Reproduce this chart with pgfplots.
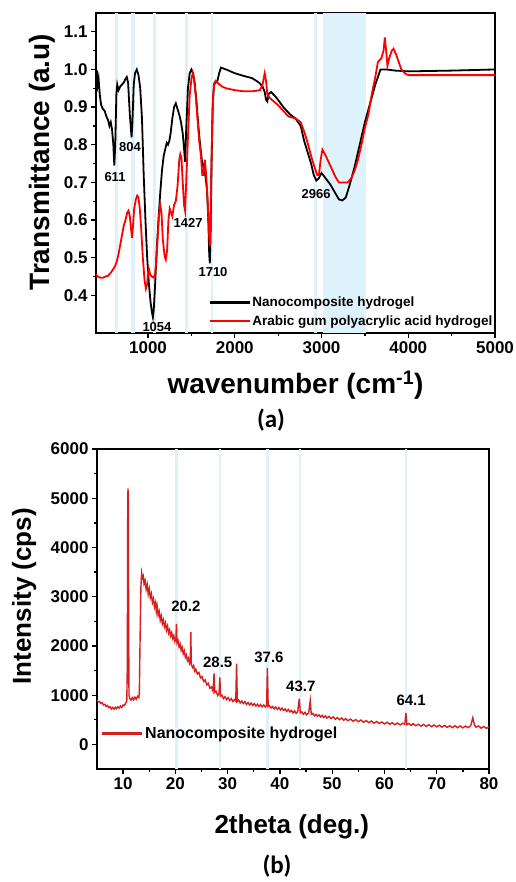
\documentclass[border=0pt]{standalone}
\usepackage{fontspec}
\setmainfont{Liberation Sans}
\newfontfamily\calibri{Carlito}
\usepackage{pgfplots}
\pgfplotsset{compat=1.18}

\definecolor{bandblue}{RGB}{222,242,252}
\definecolor{xrdred}{RGB}{214,32,32}

\pgfplotsset{
  panel/.style={
    scale only axis,
    axis line style={line width=1.6pt},
    tick pos=left, tick align=outside,
    major tick length=5pt, minor tick length=3pt,
    every tick/.style={black, line width=1.3pt},
    minor tick num=1,
    /pgf/number format/assume math mode=true,
    /pgf/number format/1000 sep={},
    tick label style={font=\fontsize{17}{17}\selectfont\bfseries},
    legend style={draw=none, fill=none, legend cell align=left},
  },
}

\begin{document}
\begin{tikzpicture}
\useasboundingbox (0,0) rectangle (515pt,-882pt);

% ---------------- (a) FTIR ----------------
\begin{axis}[panel,
  at={(96pt,-333pt)}, anchor=south west,
  width=399pt, height=320pt,
  xmin=400, xmax=5000, ymin=0.3, ymax=1.15,
  xtick={1000,2000,3000,4000,5000},
  ytick={0.4,0.5,0.6,0.7,0.8,0.9,1.0,1.1},
  yticklabel style={/pgf/number format/.cd, fixed, fixed zerofill, precision=1},
  xlabel={wavenumber (cm\textsuperscript{-1})},
  ylabel={Transmittance (a.u)},
  label style={font=\fontsize{28}{30}\selectfont\bfseries},
  xlabel style={at={(axis description cs:0.5,-0.1625)}, anchor=center},
  ylabel style={at={(axis description cs:-0.135,0.534)}, anchor=center},
  legend style={at={(0.275,0.066)}, anchor=west,
    font=\fontsize{13.5}{14}\selectfont\bfseries,
    nodes={inner sep=1pt}, row sep=5pt},
  legend image code/.code={\draw[#1, line width=2.5pt] (0pt,0pt) -- (40pt,0pt);},
]
  % highlighted bands
  \addplot[draw=none, fill=bandblue, forget plot] coordinates {(620,0.3)(620,1.15)(655,1.15)(655,0.3)} -- cycle;
  \addplot[draw=none, fill=bandblue, forget plot] coordinates {(803,0.3)(803,1.15)(845,1.15)(845,0.3)} -- cycle;
  \addplot[draw=none, fill=bandblue, forget plot] coordinates {(1058,0.3)(1058,1.15)(1095,1.15)(1095,0.3)} -- cycle;
  \addplot[draw=none, fill=bandblue, forget plot] coordinates {(1426,0.3)(1426,1.15)(1460,1.15)(1460,0.3)} -- cycle;
  \addplot[draw=none, fill=bandblue, forget plot] coordinates {(1726,0.3)(1726,1.15)(1750,1.15)(1750,0.3)} -- cycle;
  \addplot[draw=none, fill=bandblue, forget plot] coordinates {(2913,0.3)(2913,1.15)(2948,1.15)(2948,0.3)} -- cycle;
  \addplot[draw=none, fill=bandblue, forget plot] coordinates {(3020,0.3)(3020,1.15)(3510,1.15)(3510,0.3)} -- cycle;

  % nanocomposite hydrogel
  \addplot[black, line width=1.8pt] coordinates {
    (400,1.00)(410,0.995)(420,0.96)(430,0.975)(445,0.93)(460,0.905)(480,0.895)
    (500,0.89)(520,0.875)(540,0.865)(555,0.85)(570,0.86)(585,0.84)(600,0.80)
    (611,0.745)(622,0.80)(635,0.935)(645,0.96)(660,0.945)(680,0.955)(700,0.96)
    (720,0.965)(740,0.975)(755,0.98)(770,0.965)(790,0.88)(810,0.82)(820,0.86)
    (835,0.96)(850,0.99)(870,1.00)(890,0.985)(910,0.95)(930,0.87)(950,0.72)
    (970,0.60)(990,0.50)(1010,0.43)(1030,0.38)(1045,0.355)(1056,0.342)(1065,0.36)
    (1080,0.42)(1100,0.52)(1120,0.60)(1140,0.67)(1160,0.73)(1180,0.77)(1200,0.79)
    (1215,0.805)(1230,0.80)(1245,0.81)(1260,0.83)(1280,0.87)(1300,0.90)(1320,0.91)
    (1340,0.895)(1360,0.88)(1380,0.86)(1400,0.83)(1415,0.79)(1427,0.755)(1440,0.84)
    (1460,0.95)(1480,0.99)(1500,1.00)(1520,0.99)(1540,0.96)(1560,0.91)(1580,0.85)
    (1600,0.80)(1620,0.76)(1640,0.74)(1660,0.72)(1680,0.68)(1695,0.60)(1705,0.51)
    (1712,0.485)(1720,0.55)(1732,0.75)(1745,0.90)(1760,0.96)(1780,0.965)(1800,0.97)
    (1820,0.99)(1840,1.005)(1900,1.00)(2000,0.99)(2100,0.983)(2200,0.977)
    (2280,0.965)(2320,0.955)(2345,0.94)(2360,0.92)(2375,0.915)(2390,0.935)
    (2420,0.94)(2480,0.925)(2560,0.90)(2640,0.88)(2700,0.87)(2760,0.85)(2800,0.81)
    (2840,0.78)(2880,0.75)(2910,0.72)(2940,0.705)(2966,0.71)(3000,0.725)(3050,0.71)
    (3100,0.695)(3150,0.675)(3200,0.655)(3240,0.652)(3280,0.66)(3320,0.69)
    (3380,0.74)(3440,0.80)(3500,0.86)(3560,0.91)(3620,0.96)(3680,1.00)(3750,1.00)
    (3850,0.997)(4000,0.995)(4500,0.997)(5000,1.00)
  };
  \addlegendentry{Nanocomposite hydrogel}

  % arabic gum polyacrylic acid hydrogel
  \addplot[red, line width=1.8pt] coordinates {
    (400,0.455)(420,0.45)(450,0.447)(480,0.447)(510,0.45)(540,0.452)(570,0.46)
    (600,0.47)(620,0.478)(640,0.49)(660,0.51)(680,0.535)(700,0.56)(720,0.585)
    (740,0.60)(760,0.62)(775,0.625)(790,0.61)(805,0.575)(815,0.553)(825,0.58)
    (840,0.63)(860,0.655)(875,0.665)(890,0.66)(905,0.63)(920,0.58)(940,0.50)
    (960,0.44)(975,0.418)(990,0.43)(1000,0.46)(1010,0.47)(1025,0.455)(1045,0.45)
    (1065,0.447)(1080,0.455)(1095,0.49)(1110,0.55)(1125,0.61)(1140,0.64)(1155,0.62)
    (1170,0.55)(1190,0.505)(1205,0.495)(1220,0.52)(1235,0.60)(1250,0.63)(1265,0.62)
    (1280,0.61)(1300,0.64)(1320,0.65)(1340,0.69)(1360,0.76)(1372,0.775)(1385,0.765)
    (1400,0.70)(1415,0.64)(1427,0.625)(1440,0.70)(1460,0.82)(1480,0.93)(1500,0.975)
    (1515,0.99)(1530,0.975)(1550,0.93)(1570,0.87)(1590,0.81)(1610,0.77)(1625,0.72)
    (1640,0.72)(1655,0.76)(1670,0.72)(1685,0.66)(1700,0.58)(1712,0.53)(1720,0.60)
    (1735,0.80)(1750,0.93)(1765,0.965)(1780,0.97)(1800,0.965)(1850,0.955)(1900,0.95)
    (2000,0.945)(2100,0.942)(2200,0.942)(2290,0.945)(2320,0.96)(2345,0.99)(2360,0.97)
    (2375,0.935)(2400,0.925)(2450,0.915)(2500,0.905)(2560,0.89)(2620,0.875)
    (2700,0.87)(2760,0.86)(2800,0.835)(2840,0.805)(2880,0.77)(2920,0.74)(2950,0.72)
    (2970,0.72)(2990,0.76)(3010,0.787)(3040,0.775)(3080,0.755)(3120,0.735)
    (3160,0.715)(3200,0.70)(3250,0.70)(3300,0.70)(3340,0.71)(3380,0.73)(3420,0.76)
    (3460,0.80)(3500,0.845)(3540,0.88)(3580,0.935)(3620,0.98)(3650,1.02)(3690,1.03)
    (3715,1.05)(3730,1.085)(3745,1.05)(3760,1.01)(3780,1.03)(3810,1.05)(3830,1.055)
    (3860,1.04)(3890,1.02)(3920,1.00)(3960,0.99)(4000,0.985)(4500,0.985)(5000,0.985)
  };
  \addlegendentry{Arabic gum polyacrylic acid hydrogel}

  \begin{scope}[font=\fontsize{13}{13}\selectfont\bfseries]
    \node at (axis cs:619,0.713) {611};
    \node at (axis cs:792,0.795) {804};
    \node at (axis cs:1103,0.317) {1054};
    \node at (axis cs:1461,0.593) {1427};
    \node at (axis cs:1749,0.463) {1710};
    \node at (axis cs:2937,0.670) {2966};
  \end{scope}
\end{axis}

\node[font=\calibri\fontsize{25}{25}\selectfont\bfseries] at (271pt,-420pt) {(a)};

% ---------------- (b) XRD ----------------
\begin{axis}[panel,
  at={(97pt,-769pt)}, anchor=south west,
  width=392pt, height=320pt,
  xmin=5, xmax=80, ymin=-500, ymax=6000,
  xtick={10,20,30,40,50,60,70,80},
  ytick={0,1000,2000,3000,4000,5000,6000},
  xlabel={2theta (deg.)},
  ylabel={Intensity (cps)},
  label style={font=\fontsize{26}{28}\selectfont\bfseries},
  xlabel style={at={(axis description cs:0.497,-0.181)}, anchor=center},
  ylabel style={at={(axis description cs:-0.186,0.54)}, anchor=center},
  legend style={at={(0.0,0.11)}, anchor=west,
    font=\fontsize{16}{17}\selectfont\bfseries, nodes={inner sep=2pt}},
  legend image code/.code={\draw[#1, line width=3pt] (0pt,0pt) -- (40pt,0pt);},
]
  \addplot[bandblue, line width=2.5pt, forget plot] coordinates {(20.2,-500)(20.2,6000)};
  \addplot[bandblue, line width=2.5pt, forget plot] coordinates {(28.5,-500)(28.5,6000)};
  \addplot[bandblue, line width=2.5pt, forget plot] coordinates {(37.6,-500)(37.6,6000)};
  \addplot[bandblue, line width=2.5pt, forget plot] coordinates {(43.8,-500)(43.8,6000)};
  \addplot[bandblue, line width=2.5pt, forget plot] coordinates {(64.1,-500)(64.1,6000)};

  \addplot[xrdred, line width=1.4pt] coordinates {
    (5,900)(5.25,860)(5.5,870)(5.75,830)(6,845)(6.25,800)(6.5,815)(6.75,770)(7,790)
    (7.25,745)(7.5,765)(7.75,720)(8,750)(8.25,715)(8.5,755)(8.75,725)(9,765)(9.25,735)
    (9.5,780)(9.75,750)(10,800)(10.25,790)(10.5,840)(10.7,880)(10.8,1600)(10.88,4850)
    (10.93,5200)(11.0,4900)(11.05,2500)(11.12,1000)(11.25,940)(11.5,900)(11.75,950)
    (12,905)(12.25,960)(12.5,915)(12.75,975)(13,950)(13.1,1050)(13.25,2200)(13.4,3200)
    (13.55,3480)(13.7,3380)(13.85,3420)(14,3260)(14.2,3330)(14.4,3150)(14.6,3250)
    (14.8,3050)(15,3160)(15.2,2980)(15.4,3060)(15.6,2880)(15.8,2960)(16,2790)(16.2,2880)
    (16.35,2700)(16.5,2810)(16.7,2620)(16.9,2700)(17.1,2520)(17.3,2610)(17.5,2450)
    (17.7,2530)(17.9,2390)(18.1,2470)(18.3,2320)(18.5,2400)(18.7,2260)(18.9,2330)
    (19.1,2200)(19.3,2270)(19.5,2150)(19.7,2210)(19.9,2090)(20.1,2160)(20.2,2450)
    (20.3,2060)(20.5,2110)(20.7,1980)(20.9,2040)(21.1,1910)(21.3,1970)(21.5,1840)
    (21.7,1900)(21.9,1770)(22.1,1820)(22.3,1700)(22.5,1750)(22.7,1640)(22.85,1680)
    (22.95,2280)(23.05,1620)(23.3,1560)(23.5,1600)(23.7,1490)(23.9,1530)(24.2,1430)
    (24.5,1460)(24.8,1350)(25.1,1380)(25.4,1280)(25.7,1310)(26,1210)(26.3,1240)
    (26.6,1140)(26.9,1170)(27.2,1080)(27.4,1440)(27.55,1060)(27.8,1080)(28.1,990)
    (28.35,1030)(28.5,1360)(28.65,980)(28.9,1000)(29.2,930)(29.5,970)(29.8,910)
    (30.1,950)(30.4,890)(30.7,930)(31,870)(31.3,910)(31.55,880)(31.7,1640)(31.85,870)
    (32.1,900)(32.4,840)(32.7,880)(33,830)(33.3,870)(33.6,810)(33.9,850)(34.2,800)
    (34.5,840)(34.8,790)(35.1,830)(35.4,780)(35.7,815)(36,770)(36.3,810)(36.6,760)
    (36.9,800)(37.2,760)(37.45,790)(37.6,1550)(37.75,770)(38,790)(38.3,740)(38.6,770)
    (38.9,720)(39.2,760)(39.5,710)(39.8,750)(40.1,700)(40.4,735)(40.7,690)(41,720)
    (41.3,670)(41.6,710)(41.9,660)(42.2,690)(42.5,640)(42.8,680)(43.1,630)(43.4,665)
    (43.7,930)(43.9,640)(44.2,660)(44.5,610)(44.8,650)(45.1,600)(45.5,640)(45.8,890)
    (46,610)(46.3,630)(46.6,580)(46.9,610)(47.2,570)(47.5,600)(47.8,555)(48.1,590)
    (48.4,545)(48.7,580)(49,535)(49.4,570)(49.8,525)(50.2,560)(50.6,510)(51,545)
    (51.4,500)(51.8,535)(52.2,490)(52.6,525)(53,480)(53.5,515)(54,470)(54.5,505)
    (55,460)(55.5,495)(56,450)(56.5,485)(57,440)(57.5,475)(58,430)(58.5,465)(59,425)
    (59.5,455)(60,415)(60.5,450)(61,410)(61.5,440)(62,400)(62.5,435)(63,395)(63.5,430)
    (63.9,410)(64.1,640)(64.3,400)(64.7,425)(65.1,385)(65.5,420)(66,380)(66.5,410)
    (67,370)(67.5,405)(68,365)(68.5,400)(69,360)(69.5,395)(70,355)(70.5,390)(71,350)
    (71.5,385)(72,345)(72.5,380)(73,340)(73.5,378)(74,338)(74.5,375)(75,335)(75.5,372)
    (76,340)(76.5,380)(76.9,540)(77.2,400)(77.5,350)(78,375)(78.5,330)(79,365)
    (79.5,325)(80,355)
  };
  \addlegendentry{Nanocomposite hydrogel}

  \begin{scope}[font=\fontsize{15}{15}\selectfont\bfseries]
    \node at (axis cs:22.0,2807) {20.2};
    \node at (axis cs:28.1,1668) {28.5};
    \node at (axis cs:37.9,1770) {37.6};
    \node at (axis cs:44.0,1180) {43.7};
    \node at (axis cs:65.1,895) {64.1};
  \end{scope}
\end{axis}

\node[font=\calibri\fontsize{25}{25}\selectfont\bfseries] at (277pt,-866pt) {(b)};
\end{tikzpicture}
\end{document}
